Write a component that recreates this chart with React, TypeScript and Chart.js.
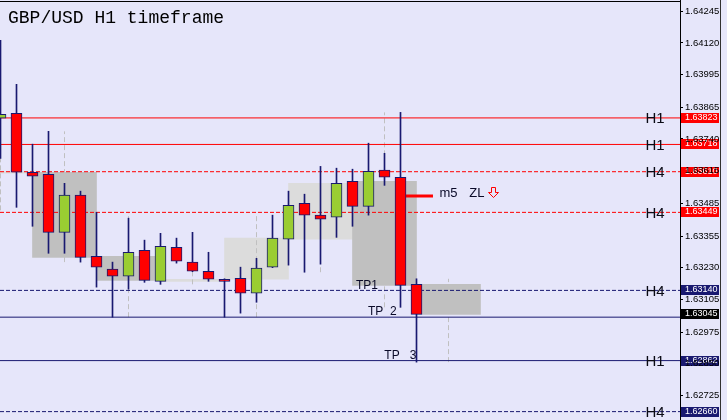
import React, { useEffect, useRef } from 'react';
import { Chart, registerables } from 'chart.js';

Chart.register(...registerables);

// ---------- data ----------
const candleOpen = [
  1.63822, 1.63841, 1.63608, 1.63600, 1.63370, 1.63517, 1.63275, 1.63224, 1.63196,
  1.63299, 1.63176, 1.63311, 1.63252, 1.63216, 1.63184, 1.63188, 1.63129, 1.63232,
  1.63343, 1.63485, 1.63438, 1.63430, 1.63572, 1.63473, 1.63616, 1.63588, 1.63164,
];
const candleHigh = [
  1.64130, 1.63956, 1.63719, 1.63770, 1.63564, 1.63533, 1.63449, 1.63252, 1.63426,
  1.63339, 1.63366, 1.63347, 1.63370, 1.63291, 1.63186, 1.63232, 1.63267, 1.63438,
  1.63533, 1.63521, 1.63631, 1.63624, 1.63620, 1.63723, 1.63683, 1.63845, 1.63186,
];
const candleLow = [
  1.63663, 1.63469, 1.63394, 1.63287, 1.63287, 1.63252, 1.63153, 1.63034, 1.63145,
  1.63172, 1.63164, 1.63248, 1.63214, 1.63176, 1.63034, 1.63050, 1.63093, 1.63230,
  1.63240, 1.63212, 1.63244, 1.63350, 1.63394, 1.63438, 1.63556, 1.63073, 1.62856,
];
const candleClose = [
  1.63837, 1.63608, 1.63592, 1.63370, 1.63517, 1.63271, 1.63232, 1.63196, 1.63291,
  1.63180, 1.63315, 1.63256, 1.63216, 1.63184, 1.63176, 1.63129, 1.63228, 1.63347,
  1.63477, 1.63438, 1.63422, 1.63564, 1.63473, 1.63612, 1.63588, 1.63160, 1.63045,
];

// H4 candles (overlay), positioned at H1 index
const h4Index = [0, 4, 8, 12, 16, 20, 24, 28];
const h4Open = [1.63604, 1.63608, 1.63275, 1.63176, 1.63184, 1.63343, 1.63572, 1.63164];
const h4High = [1.64130, 1.63770, 1.63449, 1.63370, 1.63438, 1.63631, 1.63845, 1.63186];
const h4Low = [1.63457, 1.63252, 1.63034, 1.63164, 1.63034, 1.63212, 1.63073, 1.62856];
const h4Close = [1.63610, 1.63271, 1.63180, 1.63184, 1.63347, 1.63564, 1.63160, 1.63045];

const yTicks = [
  1.64245, 1.64120, 1.63995, 1.63865, 1.63740, 1.63615, 1.63485, 1.63355,
  1.63230, 1.63105, 1.62975, 1.62850, 1.62725,
];

const levelValues = [1.63823, 1.63718, 1.63610, 1.63449, 1.63140, 1.63034, 1.62862, 1.62660];
const levelNames = ['H1', 'H1', 'H4', 'H4', 'H4', '', 'H1', 'H4'];
const bidPrice = 1.63045;
const m5Level = 1.63514;

const titleText = 'GBP/USD H1 timeframe';

// ---------- styles ----------
const BG = '#E6E6FA';
const RED = '#FF0000';
const GREEN = '#9ACD32';
const NAVY = '#191970';
const H4_DARK = '#C0C0C0';
const H4_LIGHT = '#DCDCDC';
const levelStyle = [
  { color: RED, dash: [] as number[], label: true },
  { color: RED, dash: [], label: true },
  { color: RED, dash: [4, 2], label: true },
  { color: RED, dash: [4, 2], label: true },
  { color: NAVY, dash: [4, 2], label: true },
  { color: NAVY, dash: [], label: false },
  { color: NAVY, dash: [], label: true },
  { color: NAVY, dash: [4, 2], label: true },
];

const X_MIN = -0.5 / 16;
const X_MAX = X_MIN + 680 / 16;
const Y_MAX = 1.6429;
const Y_MIN = 1.6429 - 420 * 0.0000396;

const SANS = "'Liberation Sans', Arial, sans-serif";

const overlayPlugin = {
  id: 'overlay',
  beforeDraw(chart: any) {
    const ctx = chart.ctx;
    ctx.save();
    ctx.fillStyle = BG;
    ctx.fillRect(0, 0, chart.width, chart.height);
    ctx.restore();
  },
  afterDatasetsDraw(chart: any) {
    const ctx = chart.ctx;
    const y = chart.scales.y;
    const area = chart.chartArea;
    ctx.save();
    ctx.font = `9px ${SANS}`;
    ctx.textBaseline = 'middle';
    ctx.textAlign = 'left';
    const drawBox = (v: number, bg: string) => {
      const py = y.getPixelForValue(v);
      ctx.fillStyle = bg;
      ctx.fillRect(area.right + 1, Math.round(py) - 5, 38, 10);
      ctx.fillStyle = '#FFFFFF';
      ctx.fillText(v.toFixed(5), area.right + 5, Math.round(py));
    };
    levelValues.forEach((v, i) => {
      if (levelStyle[i].label) drawBox(v, levelStyle[i].color === RED ? RED : NAVY);
    });
    drawBox(bidPrice, '#000000');
    ctx.restore();
  },
  afterDraw(chart: any) {
    const ctx = chart.ctx;
    const x = chart.scales.x;
    const y = chart.scales.y;
    const area = chart.chartArea;
    ctx.save();
    // top border
    ctx.fillStyle = '#000';
    ctx.fillRect(area.left, 1, area.right - area.left, 1);
    // right window edge
    ctx.fillStyle = '#303030';
    ctx.fillRect(area.right + 40, 0, 1, chart.height);

    // title
    ctx.fillStyle = '#000';
    ctx.font = "18px 'Liberation Mono', 'Courier New', monospace";
    ctx.textBaseline = 'alphabetic';
    ctx.fillText(titleText, 8, 23);

    // level names
    ctx.font = `15px ${SANS}`;
    levelValues.forEach((v, i) => {
      if (!levelNames[i]) return;
      const py = y.getPixelForValue(v);
      ctx.fillStyle = '#0a0a14';
      ctx.fillText(levelNames[i], x.getPixelForValue(40.31), py + 5.5);
    });

    // TP labels
    ctx.font = `12px ${SANS}`;
    ctx.fillStyle = '#0a0a28';
    ctx.fillText('TP1', x.getPixelForValue(22.22), y.getPixelForValue(1.63144));
    ctx.fillText('TP  2', x.getPixelForValue(22.97), y.getPixelForValue(1.63043));
    ctx.fillText('TP   3', x.getPixelForValue(23.99), y.getPixelForValue(1.62867));

    // m5 ZL
    ctx.font = `13px ${SANS}`;
    ctx.fillStyle = '#0a0a28';
    const by = y.getPixelForValue(1.63508);
    ctx.fillText('m5', x.getPixelForValue(27.43), by);
    ctx.fillText('ZL', x.getPixelForValue(29.3), by);
    // hollow down arrow
    const ax = Math.round(x.getPixelForValue(30.49)) + 0.5;
    const ay = Math.round(by - 10) + 0.5;
    ctx.strokeStyle = RED;
    ctx.lineWidth = 1;
    ctx.beginPath();
    ctx.moveTo(ax + 3, ay);
    ctx.lineTo(ax + 7, ay);
    ctx.lineTo(ax + 7, ay + 5);
    ctx.lineTo(ax + 10, ay + 5);
    ctx.lineTo(ax + 5, ay + 10);
    ctx.lineTo(ax, ay + 5);
    ctx.lineTo(ax + 3, ay + 5);
    ctx.closePath();
    ctx.stroke();
    ctx.restore();
  },
};

export default function App() {
  const ref = useRef<HTMLCanvasElement | null>(null);

  useEffect(() => {
    if (!ref.current) return;
    const idx = candleOpen.map((_, i) => i);
    const bodyData = idx.map((i) => ({ x: i, y: [candleOpen[i], candleClose[i]] }));
    const bodyColors = idx.map((i) => (candleClose[i] >= candleOpen[i] ? GREEN : RED));
    const wickData = idx.map((i) => ({ x: i, y: [candleLow[i], candleHigh[i]] }));

    const h4BoxData = h4Index.map((xi, i) => ({ x: xi, y: [h4Open[i], h4Close[i]] }));
    const h4BoxColors = h4Index.map((_, i) => (h4Close[i] >= h4Open[i] ? H4_LIGHT : H4_DARK));
    const h4WickData: any[] = [];
    h4Index.forEach((xi, i) => {
      h4WickData.push({ x: xi, y: h4Low[i] });
      h4WickData.push({ x: xi, y: h4High[i] });
      h4WickData.push({ x: xi, y: null });
    });

    const levelSets = levelValues.map((v, i) => ({
      type: 'line' as const,
      data: [
        { x: X_MIN, y: v },
        { x: X_MAX, y: v },
      ],
      borderColor: levelStyle[i].color,
      borderDash: levelStyle[i].dash,
      borderWidth: 1,
      pointRadius: 0,
      tension: 0,
      fill: false,
      order: 5,
    }));

    const chart = new Chart(ref.current, {
      type: 'bar',
      data: {
        datasets: [
          {
            type: 'bar',
            data: h4BoxData as any,
            backgroundColor: h4BoxColors,
            borderWidth: 0,
            barThickness: 64,
            grouped: false,
            order: 10,
          } as any,
          {
            type: 'line',
            data: h4WickData,
            borderColor: H4_DARK,
            borderDash: [5, 3],
            borderWidth: 1,
            pointRadius: 0,
            spanGaps: false,
            tension: 0,
            order: 9,
          } as any,
          ...levelSets,
          {
            type: 'line',
            data: [
              { x: 25, y: m5Level },
              { x: 27.03, y: m5Level },
            ],
            borderColor: RED,
            borderWidth: 3,
            pointRadius: 0,
            order: 3,
          } as any,
          {
            type: 'bar',
            data: wickData as any,
            backgroundColor: NAVY,
            borderWidth: 0,
            barThickness: 1,
            grouped: false,
            order: 2,
          } as any,
          {
            type: 'bar',
            data: bodyData as any,
            backgroundColor: bodyColors,
            borderColor: NAVY,
            borderWidth: 1,
            borderSkipped: false,
            barThickness: 11,
            grouped: false,
            order: 1,
          } as any,
        ],
      },
      options: {
        responsive: false,
        animation: false,
        events: [],
        layout: { padding: 0 },
        plugins: {
          legend: { display: false },
          tooltip: { enabled: false },
          title: { display: false },
        },
        scales: {
          x: {
            type: 'linear',
            min: X_MIN,
            max: X_MAX,
            display: false,
            offset: false,
          },
          y: {
            type: 'linear',
            position: 'right',
            min: Y_MIN,
            max: Y_MAX,
            afterBuildTicks: (s: any) => {
              s.ticks = yTicks.map((v) => ({ value: v }));
            },
            afterFit: (s: any) => {
              s.width = 47;
              s.paddingTop = 0;
              s.paddingBottom = 0;
            },
            grid: {
              drawOnChartArea: false,
              drawTicks: true,
              tickLength: 3,
              color: '#000',
            },
            border: { display: true, color: '#000', width: 1 },
            ticks: {
              z: 1,
              autoSkip: false,
              padding: 2,
              color: '#000',
              font: { family: SANS, size: 9.5 },
              callback: (v: any) => Number(v).toFixed(5),
            },
          },
        },
      } as any,
      plugins: [overlayPlugin],
    });
    return () => chart.destroy();
  }, []);

  return (
    <div style={{ position: 'fixed', left: 0, top: 0, width: 727, height: 420, background: BG }}>
      <canvas ref={ref} width={727} height={420} style={{ display: 'block' }} />
    </div>
  );
}
